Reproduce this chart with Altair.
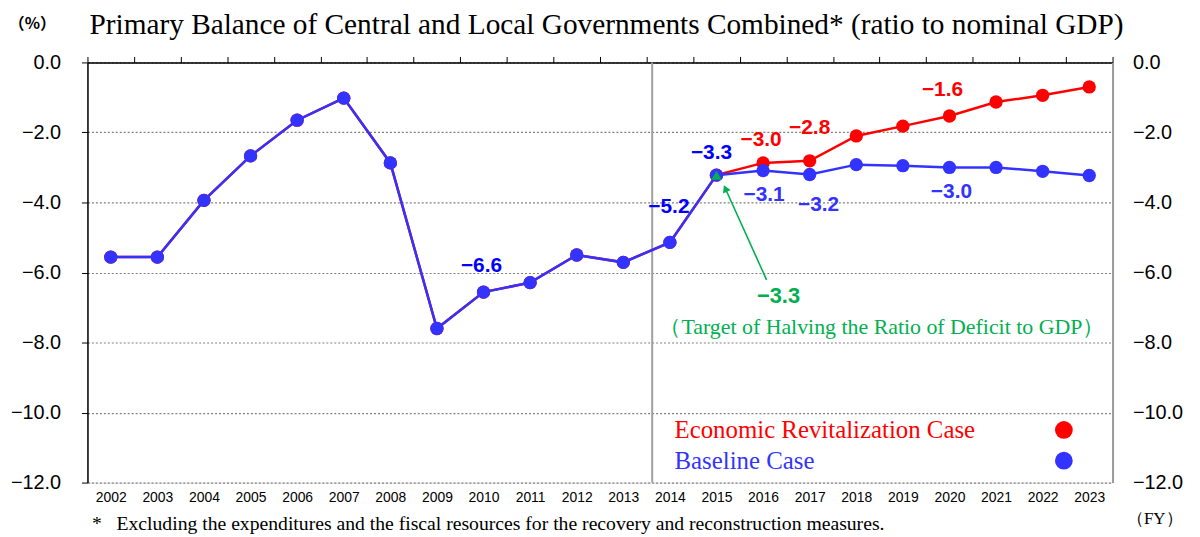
import altair as alt
import pandas as pd

# ---------------- data ----------------
years = list(range(2002, 2024))
baseline_case = [-5.56, -5.56, -3.94, -2.67, -1.65, -1.02, -2.87, -7.60, -6.56, -6.29,
                 -5.50, -5.71, -5.14, -3.22, -3.09, -3.20, -2.92, -2.95, -3.00, -3.00,
                 -3.11, -3.23]
revitalization_case = [-5.56, -5.56, -3.94, -2.67, -1.65, -1.02, -2.87, -7.60, -6.56, -6.29,
                       -5.50, -5.71, -5.14, -3.22, -2.87, -2.81, -2.10, -1.82, -1.53, -1.13,
                       -0.94, -0.70]
series_names = ["Economic Revitalization Case", "Baseline Case"]

# value labels shown on the chart
label_years_base = [2010, 2014, 2015, 2016, 2017, 2020]
label_text_base = ["−6.6", "−5.2", "−3.3", "−3.1", "−3.2", "−3.0"]
label_years_rev = [2016, 2017, 2020]
label_text_rev = ["−3.0", "−2.8", "−1.6"]

target_year = 2015
target_value = -3.22
target_label = "−3.3"
target_note = "（Target of Halving the Ratio of Deficit to GDP）"
forecast_split = 2013.62

y_ticks = [0, -2, -4, -6, -8, -10, -12]
x_edges = [y - 0.5 for y in years] + [years[-1] + 0.5]

title_text = "Primary Balance of Central and Local Governments Combined* (ratio to nominal GDP)"
footnote = "*\u00a0\u00a0\u00a0Excluding the expenditures and the fiscal resources for the recovery and reconstruction measures."

RED = "#FF0000"
BLUE = "#3333FF"
DBLUE = "#0000FF"
GREEN = "#00B050"
SANS = "Liberation Sans"
SERIF = "Liberation Serif"

base_df = pd.DataFrame({"year": years, "value": baseline_case})
rev_df = pd.DataFrame({"year": years, "value": revitalization_case})

xs = alt.Scale(domain=[years[0] - 0.5, years[-1] + 0.5], nice=False, zero=False)
ys = alt.Scale(domain=[-12, 0], nice=False, zero=False)

W, H = 1032, 423


def X(axis=None):
    return alt.X("year:Q", scale=xs, axis=axis)


def Y(axis=None):
    return alt.Y("value:Q", scale=ys, axis=axis)


top_axis = alt.Axis(orient="top", values=x_edges, labels=False, ticks=True, tickSize=6,
                    tickColor="black", tickWidth=1, domainColor="black", domainWidth=1.5,
                    grid=False, title=None)
bottom_axis = alt.Axis(orient="bottom", values=years, format="d", domain=False, ticks=False,
                       labelPadding=8, labelFontSize=14, labelFont=SANS, labelColor="black",
                       labelFlush=False, labelOverlap=False, grid=False,
                       title=footnote, titleX=4, titleY=41, titleAlign="left",
                       titleBaseline="middle", titleFont=SERIF, titleFontSize=19.8,
                       titleFontWeight="normal", titleColor="black")
left_axis = alt.Axis(orient="left", values=y_ticks, format=".1f", domainColor="black",
                     domainWidth=1.5, ticks=True, tickSize=6, tickColor="black",
                     labelPadding=21, labelFontSize=20, labelFont=SANS, labelColor="black",
                     labelFlush=False, labelOverlap=False,
                     grid=True, gridColor="#808080", gridDash=[2, 2], gridWidth=1.2,
                     title="（%）", titleAngle=0, titleX=-56, titleY=-39, titleAlign="center",
                     titleBaseline="middle", titleFont="Noto Sans CJK JP", titleFontSize=16,
                     titleFontWeight="bold", titleColor="black")
right_axis = alt.Axis(orient="right", values=y_ticks, format=".1f", domainColor="#999999",
                      domainWidth=2, ticks=False, labelPadding=20, labelFontSize=20,
                      labelFont=SANS, labelColor="black", labelFlush=False, labelOverlap=False,
                      grid=False,
                      title="（FY）", titleAngle=0, titleX=42, titleY=459, titleAlign="center",
                      titleBaseline="middle", titleFont=SERIF, titleFontSize=17,
                      titleFontWeight="normal", titleColor="black")

split = alt.Chart(pd.DataFrame({"x": [forecast_split]})).mark_rule(
    color="#A0A0A0", strokeWidth=2).encode(x=alt.X("x:Q", scale=xs, axis=None))

red_line = alt.Chart(rev_df).mark_line(color=RED, strokeWidth=2.5).encode(
    x=X(bottom_axis), y=Y(right_axis))
red_pts = alt.Chart(rev_df).mark_circle(color=RED, size=180, opacity=1).encode(x=X(), y=Y())
blue_line = alt.Chart(base_df).mark_line(color=BLUE, strokeWidth=2.5).encode(
    x=X(top_axis), y=Y(left_axis))
blue_pts = alt.Chart(base_df).mark_circle(color=BLUE, size=180, opacity=1).encode(x=X(), y=Y())

# target marker and arrow
tgt_df = pd.DataFrame({"year": [target_year], "value": [target_value]})
tgt_marker = alt.Chart(tgt_df).mark_point(shape="triangle-up", filled=True, color=GREEN,
                                          size=110, opacity=1).encode(x=X(), y=Y())
arrow_df = pd.DataFrame({"year": [2016.075], "value": [-6.21],
                         "year2": [2015.19], "value2": [-3.6]})
arrow_shaft = alt.Chart(arrow_df).mark_rule(color=GREEN, strokeWidth=1.6).encode(
    x=X(), y=Y(), x2="year2:Q", y2="value2:Q")
head_df = pd.DataFrame({"year": [2015.19], "value": [-3.6]})
arrow_head = alt.Chart(head_df).mark_point(shape="triangle-up", filled=True, color=GREEN,
                                           size=70, angle=335.8, opacity=1).encode(x=X(), y=Y())
tail_df = pd.DataFrame({"year": [2016.075], "value": [-6.21], "t": [target_label]})
tgt_text = alt.Chart(tail_df).mark_text(color=GREEN, font=SANS, fontSize=22, fontWeight="bold",
                                        dx=12, dy=16).encode(x=X(), y=Y(), text="t:N")
note_df = pd.DataFrame({"year": [2018.55], "value": [-7.55], "t": [target_note]})
note_text = alt.Chart(note_df).mark_text(color=GREEN, font=SERIF, fontSize=22).encode(
    x=X(), y=Y(), text="t:N")


def lab(vals, yr, txt, color, dx, dy):
    v = vals[years.index(yr)]
    d = pd.DataFrame({"year": [yr], "value": [v], "t": [txt]})
    return alt.Chart(d).mark_text(color=color, font=SANS, fontSize=21, fontWeight="bold",
                                  dx=dx, dy=dy).encode(x=X(), y=Y(), text="t:N")


offsets_base = {2010: (-2, -26, DBLUE), 2014: (-1, -36, DBLUE), 2015: (-5, -22, DBLUE),
                2016: (1, 25, BLUE), 2017: (9, 31, BLUE), 2020: (2, 25, BLUE)}
offsets_rev = {2016: (-2, -23), 2017: (0, -33), 2020: (-7, -26)}

labels = []
for yr, txt in zip(label_years_base, label_text_base):
    dx, dy, c = offsets_base[yr]
    labels.append(lab(baseline_case, yr, txt, c, dx, dy))
for yr, txt in zip(label_years_rev, label_text_rev):
    dx, dy = offsets_rev[yr]
    labels.append(lab(revitalization_case, yr, txt, RED, dx, dy))

# legend (manual, label left of the dot)
leg_df = pd.DataFrame({"name": series_names})
leg_layers = []
for i, (nm, col) in enumerate(zip(series_names, [RED, BLUE])):
    d = leg_df[leg_df["name"] == nm]
    leg_layers.append(alt.Chart(d).mark_text(align="left", baseline="middle", font=SERIF,
                                             fontSize=25, color=col).encode(
        x=alt.value(591), y=alt.value(370 + 31 * i), text="name:N"))
    leg_layers.append(alt.Chart(d).mark_circle(size=320, color=col, opacity=1).encode(
        x=alt.value(983), y=alt.value(370 + 31 * i)))

# chart title drawn as text above the plot
title_layer = alt.Chart(pd.DataFrame({"t": [title_text]})).mark_text(
    align="left", baseline="alphabetic", font=SERIF, fontSize=29.5, color="black").encode(
    x=alt.value(2), y=alt.value(-29), text="t:N")

chart = alt.layer(
    split, red_line, red_pts, blue_line, blue_pts, tgt_marker, arrow_shaft, arrow_head,
    tgt_text, note_text, *labels, *leg_layers, title_layer
).resolve_axis(x="independent", y="independent").properties(
    width=W, height=H,
    autosize=alt.AutoSizeParams(type="none"),
    padding={"left": 80, "top": 53, "right": 80, "bottom": 53},
).configure_view(stroke=None).configure(background="white")

chart.save("out.html", embed_options={"renderer": "svg", "actions": False})
